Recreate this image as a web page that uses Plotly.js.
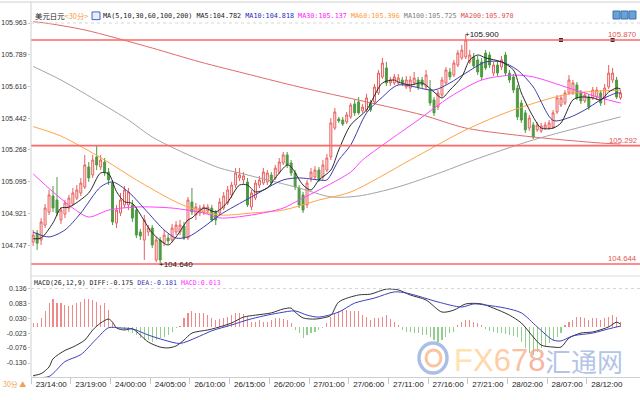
<!DOCTYPE html>
<html><head><meta charset="utf-8">
<script src="https://cdn.plot.ly/plotly-3.0.1.min.js"></script>
<style>html,body{margin:0;padding:0;background:#fff}#chart{width:640px;height:400px}</style>
</head><body><div id="chart"></div>
<script>
// ---- x axis labels (30-minute bars, one label every 10 bars)
const timeLabels = ['23/14:00','23/19:00','24/00:00','24/05:00','26/10:00','26/15:00','26/20:00','27/01:00','27/06:00','27/11:00','27/16:00','27/21:00','28/02:00','28/07:00','28/12:00'];
const priceTicks = [105.963,105.789,105.616,105.442,105.268,105.095,104.921,104.747];
const macdTicks = [0.136,0.083,0.030,-0.023,-0.076,-0.130];

// ---- candles
const open = [104.764,104.813,104.775,104.857,104.928,105.016,104.994,104.885,104.917,104.950,104.972,105.005,105.033,105.065,105.175,105.131,105.230,105.175,105.202,105.147,105.087,104.868,104.923,104.967,104.967,104.967,104.939,104.819,104.775,104.819,104.841,104.666,104.775,104.759,104.786,104.775,104.819,104.819,104.852,104.786,104.983,104.912,104.923,104.928,104.934,104.950,104.928,104.923,104.950,104.978,105.022,105.076,105.115,105.104,105.093,104.956,105.005,105.076,105.087,105.093,105.131,105.115,105.147,105.197,105.241,105.197,105.142,105.060,105.022,104.967,105.115,105.120,105.158,105.120,105.158,105.230,105.388,105.438,105.432,105.421,105.449,105.520,105.531,105.482,105.487,105.525,105.531,105.580,105.668,105.717,105.635,105.635,105.635,105.651,105.613,105.607,105.635,105.651,105.651,105.613,105.596,105.542,105.503,105.569,105.635,105.695,105.678,105.733,105.772,105.777,105.750,105.777,105.761,105.750,105.799,105.788,105.689,105.733,105.722,105.788,105.689,105.668,105.607,105.525,105.471,105.388,105.405,105.378,105.372,105.388,105.388,105.394,105.476,105.514,105.525,105.580,105.580,105.624,105.580,105.536,105.558,105.553,105.558,105.580,105.553,105.613,105.651,105.651,105.553];
const high = [104.830,104.830,104.895,104.972,105.049,105.071,105.120,104.956,104.994,105.022,105.060,105.076,105.115,105.241,105.202,105.241,105.290,105.241,105.224,105.169,105.104,104.967,105.033,105.071,105.060,104.994,104.956,104.836,104.912,104.857,104.857,104.792,104.792,104.830,104.808,104.863,104.879,104.885,104.874,105.011,105.060,104.978,104.967,104.972,104.972,104.967,104.939,105.005,105.038,105.071,105.093,105.169,105.169,105.147,105.115,105.049,105.104,105.126,105.169,105.158,105.147,105.186,105.224,105.257,105.257,105.213,105.158,105.076,105.038,105.104,105.169,105.180,105.175,105.213,105.246,105.443,105.498,105.449,105.449,105.476,105.525,105.542,105.558,105.520,105.575,105.542,105.629,105.706,105.772,105.750,105.668,105.684,105.684,105.668,105.673,105.673,105.695,105.668,105.668,105.706,105.651,105.558,105.596,105.668,105.722,105.717,105.761,105.815,105.843,105.900,105.815,105.799,105.783,105.772,105.815,105.804,105.750,105.750,105.783,105.804,105.706,105.684,105.624,105.542,105.487,105.460,105.421,105.421,105.416,105.421,105.432,105.487,105.569,105.569,105.596,105.678,105.651,105.640,105.596,105.585,105.575,105.613,105.613,105.596,105.629,105.733,105.717,105.668,105.596];
const low = [104.742,104.721,104.748,104.841,104.912,104.928,104.906,104.863,104.895,104.928,104.961,104.994,105.016,105.054,105.093,105.115,105.158,105.158,105.126,105.076,104.857,104.841,104.906,104.950,104.939,104.874,104.786,104.775,104.666,104.797,104.732,104.655,104.640,104.742,104.753,104.764,104.802,104.802,104.775,104.775,104.912,104.885,104.906,104.912,104.917,104.874,104.857,104.912,104.939,104.967,105.005,105.060,105.098,105.082,104.956,104.939,104.994,105.060,105.076,105.076,105.071,105.104,105.137,105.186,105.169,105.126,105.049,104.950,104.923,104.950,105.093,105.104,105.093,105.104,105.147,105.213,105.378,105.416,105.399,105.410,105.438,105.454,105.460,105.471,105.476,105.476,105.520,105.569,105.657,105.618,105.618,105.624,105.624,105.618,105.602,105.585,105.624,105.596,105.607,105.596,105.509,105.454,105.487,105.558,105.624,105.651,105.668,105.722,105.761,105.766,105.739,105.717,105.678,105.651,105.706,105.717,105.673,105.673,105.706,105.673,105.635,105.580,105.432,105.416,105.361,105.372,105.328,105.367,105.361,105.378,105.378,105.383,105.465,105.503,105.514,105.569,105.569,105.542,105.520,105.525,105.487,105.542,105.542,105.509,105.514,105.602,105.635,105.547,105.542];
const close = [104.802,104.758,104.874,104.950,105.022,104.950,104.923,104.939,104.978,105.005,105.033,105.049,105.087,105.186,105.115,105.213,105.186,105.213,105.147,105.104,104.874,104.939,104.994,105.049,105.038,104.895,104.802,104.797,104.885,104.841,104.748,104.775,104.666,104.802,104.770,104.841,104.857,104.857,104.786,104.994,104.928,104.956,104.950,104.956,104.956,104.885,104.885,104.983,105.016,105.049,105.076,105.142,105.131,105.126,104.967,105.033,105.087,105.104,105.147,105.142,105.087,105.169,105.202,105.241,105.186,105.142,105.065,104.967,104.939,105.087,105.147,105.158,105.104,105.186,105.224,105.416,105.476,105.427,105.410,105.460,105.514,105.471,105.471,105.503,105.553,105.487,105.613,105.689,105.744,105.635,105.651,105.668,105.662,105.635,105.651,105.651,105.662,105.613,105.624,105.678,105.525,105.471,105.580,105.651,105.706,105.668,105.744,105.799,105.815,105.870,105.788,105.728,105.695,105.668,105.717,105.733,105.733,105.689,105.761,105.689,105.651,105.596,105.449,105.432,105.378,105.443,105.339,105.405,105.399,105.405,105.416,105.471,105.553,105.553,105.580,105.651,105.635,105.553,105.536,105.569,105.503,105.596,105.596,105.525,105.607,105.689,105.689,105.558,105.580];

// ---- moving averages (bar index, value)
const ma5X = [0,2,5,7,9,14,17,19,21,23,25,28,30,34,36,39,40,43,46,49,52,54,56,59,61,64,65,68,70,72,75,77,80,84,88,91,92,95,98,101,103,105,108,110,112,114,118,121,123,126,128,131,133,136,138,141,143,145,147,148];
const ma5 = [104.782,104.786,104.869,104.950,104.955,105.033,105.142,105.137,105.040,104.985,104.975,104.880,104.814,104.748,104.792,104.885,104.896,104.950,104.929,104.983,105.076,105.076,105.038,105.060,105.115,105.186,105.175,105.076,105.049,105.104,105.158,105.268,105.405,105.487,105.635,105.651,105.640,105.624,105.635,105.585,105.553,105.596,105.668,105.761,105.788,105.772,105.750,105.706,105.580,105.449,105.388,105.388,105.416,105.542,105.558,105.553,105.542,105.585,105.607,105.602];
const ma10X = [0,4,8,12,17,20,24,29,33,36,39,43,47,55,63,67,72,74,77,80,84,88,92,101,105,109,114,118,122,126,131,135,139,143,147,148];
const ma10 = [104.818,104.792,104.830,104.923,105.066,105.093,105.038,104.923,104.830,104.786,104.792,104.847,104.912,105.011,105.104,105.115,105.104,105.104,105.213,105.295,105.471,105.558,105.624,105.596,105.635,105.689,105.750,105.750,105.706,105.613,105.430,105.445,105.487,105.542,105.580,105.580];
const ma30X = [0,5,10,14,19,26,35,43,47,55,63,67,72,80,83,97,105,113,121,126,135,143,148];
const ma30 = [105.137,105.038,104.950,104.901,104.939,104.956,104.950,104.923,104.896,104.912,104.950,104.994,105.049,105.147,105.213,105.432,105.558,105.651,105.678,105.668,105.607,105.553,105.525];
const ma60X = [0,7,18,26,35,39,47,55,63,72,80,95,109,121,135,148];
const ma60 = [105.396,105.344,105.213,105.104,104.994,104.956,104.912,104.923,104.939,104.994,105.038,105.213,105.378,105.487,105.575,105.596];
const ma100X = [0,7,17,24,30,38,47,52,67,75,82,92,103,111,126,148];
const ma100 = [105.725,105.651,105.525,105.432,105.339,105.252,105.169,105.142,105.060,105.011,105.016,105.066,105.147,105.213,105.323,105.449];
const ma200X = [0,3,13,30,42,55,67,84,98,109,126,143,148];
const ma200 = [105.970,105.963,105.925,105.826,105.750,105.678,105.613,105.531,105.460,105.388,105.339,105.306,105.301];

// ---- drawn levels and marked extremes
const levels = [105.870, 105.292, 104.644];
const levelPtsX = [133, 146];
const extremeX = [109, 32];
const extremeY = [105.900, 104.640];

// ---- MACD(26,12,9)
const hist = [0.014,0.014,0.030,0.054,0.083,0.098,0.083,0.083,0.077,0.074,0.077,0.083,0.089,0.098,0.098,0.095,0.089,0.077,0.083,0.060,0.012,-0.002,-0.005,-0.012,-0.018,-0.024,-0.030,-0.042,-0.046,-0.048,-0.054,-0.048,-0.042,-0.036,-0.030,-0.018,-0.006,0.002,0.030,0.050,0.054,0.050,0.050,0.048,0.042,0.030,0.024,0.027,0.030,0.036,0.042,0.048,0.048,0.045,0.036,0.018,0.018,0.024,0.018,0.018,0.024,0.030,0.030,0.027,0.024,0.012,-0.012,-0.024,-0.042,-0.030,-0.024,-0.018,-0.012,-0.006,0.012,0.036,0.048,0.054,0.060,0.060,0.057,0.057,0.054,0.042,0.036,0.024,0.030,0.030,0.036,0.042,0.026,0.018,0.006,-0.012,-0.018,-0.018,-0.024,-0.024,-0.030,-0.030,-0.036,-0.048,-0.054,-0.048,-0.036,-0.024,-0.018,0.006,0.018,0.024,0.024,0.018,0.012,0.006,-0.010,-0.014,-0.018,-0.024,-0.024,-0.027,-0.030,-0.033,-0.036,-0.054,-0.077,-0.095,-0.101,-0.089,-0.077,-0.068,-0.060,-0.048,-0.036,-0.024,0.006,0.018,0.024,0.036,0.036,0.030,0.024,0.030,0.030,0.024,0.030,0.036,0.042,0.036,0.018];
const diffX = [0,2,4,5,8,10,13,15,17,19,20,21,23,25,27,29,32,34,36,38,40,44,46,50,53,56,60,63,65,66,68,71,73,75,77,82,85,89,92,95,99,103,106,109,113,116,120,123,126,128,131,133,135,138,141,145,147,148];
const diff = [-0.175,-0.168,-0.144,-0.115,-0.085,-0.073,-0.048,-0.012,0.013,0.027,0.016,-0.005,-0.012,-0.008,-0.030,-0.055,-0.073,-0.076,-0.069,-0.048,-0.023,-0.012,-0.005,0.013,0.034,0.041,0.049,0.063,0.066,0.052,0.031,0.027,0.031,0.040,0.088,0.113,0.116,0.134,0.131,0.113,0.095,0.052,0.059,0.081,0.081,0.066,0.041,0.013,-0.037,-0.066,-0.073,-0.073,-0.041,-0.023,-0.019,-0.001,0.016,0.009];
const deaX = [0,4,8,12,16,19,22,25,29,33,37,41,45,50,54,58,62,66,69,72,77,81,86,91,94,97,102,108,111,114,119,123,127,131,133,136,141,145,148];
const dea = [-0.181,-0.178,-0.125,-0.100,-0.043,-0.004,-0.005,-0.008,-0.030,-0.048,-0.060,-0.040,-0.015,0.006,0.024,0.038,0.049,0.056,0.041,0.034,0.052,0.084,0.102,0.124,0.120,0.109,0.088,0.070,0.081,0.077,0.066,0.049,-0.001,-0.048,-0.051,-0.033,-0.023,-0.008,0.002];

// ---------------------------------------------------------------
const idx = open.map((_, i) => i);
const tickPos = timeLabels.map((_, k) => -0.5 + 10 * k);
const histColors = hist.map(v => v >= 0 ? '#ef8a8a' : '#92cf8e');

function maLine(x, y, color) {
  return {type: 'scatter', mode: 'lines', x: x, y: y, xaxis: 'x', yaxis: 'y',
    line: {color: color, width: 1, shape: 'spline', smoothing: 0.8}, hoverinfo: 'skip'};
}

const traces = [
  {type: 'candlestick', x: idx, open: open, high: high, low: low, close: close,
   xaxis: 'x', yaxis: 'y', whiskerwidth: 0,
   increasing: {line: {color: '#e8605e', width: 1}, fillcolor: '#fff6f6'},
   decreasing: {line: {color: '#4e9a42', width: 1}, fillcolor: '#4e9a42'}},
  maLine(ma200X, ma200, '#e26a6a'),
  maLine(ma100X, ma100, '#a4a4a4'),
  maLine(ma60X, ma60, '#ffa346'),
  maLine(ma30X, ma30, '#ff44ff'),
  maLine(ma10X, ma10, '#3c3caa'),
  maLine(ma5X, ma5, '#2a2a2a'),
  {type: 'scatter', mode: 'markers', x: levelPtsX, y: levelPtsX.map(() => levels[0]),
   xaxis: 'x', yaxis: 'y', marker: {symbol: 'square', size: 4, color: '#333'}},
  {type: 'bar', x: idx, y: hist, xaxis: 'x', yaxis: 'y2', width: 0.28,
   marker: {color: histColors, line: {width: 0}}},
  {type: 'scatter', mode: 'lines', x: diffX, y: diff, xaxis: 'x', yaxis: 'y2',
   line: {color: '#333333', width: 1, shape: 'spline', smoothing: 0.8}},
  {type: 'scatter', mode: 'lines', x: deaX, y: dea, xaxis: 'x', yaxis: 'y2',
   line: {color: '#4040c0', width: 1, shape: 'spline', smoothing: 0.8}}
];

const axFont = {family: 'Liberation Sans, Arial, sans-serif', size: 7, color: '#333'};
const mono = 'DejaVu Sans Mono, Noto Sans CJK SC, monospace';

const shapes = [];
levels.forEach(v => shapes.push({type: 'line', xref: 'paper', x0: 0, x1: 1, yref: 'y', y0: v, y1: v,
  line: {color: '#ff6666', width: 1.6}}));
shapes.push({type: 'line', xref: 'paper', x0: 0, x1: 1, yref: 'y', y0: priceTicks[0], y1: priceTicks[0], line: {color: '#d6d6d6', width: 1, dash: 'dot'}});
shapes.push({type: 'line', xref: 'paper', x0: 0, x1: 1, yref: 'y2', y0: macdTicks[0], y1: macdTicks[0], line: {color: '#d6d6d6', width: 1, dash: 'dot'}});
shapes.push({type: 'line', xref: 'paper', x0: -0.051, x1: 1, yref: 'paper', y0: 1, y1: 1, line: {color: '#cfcfcf', width: 1}});
shapes.push({type: 'line', xref: 'paper', x0: 0, x1: 1, yref: 'paper', y0: 0.2693, y1: 0.2693, line: {color: '#dcdcdc', width: 1}});
shapes.push({type: 'line', xref: 'paper', x0: 0, x1: 0, yref: 'paper', y0: 0, y1: 1, line: {color: '#cfcfcf', width: 1}});
// small header icon
shapes.push({type: 'rect', xref: 'paper', yref: 'paper', x0: 0.1002, x1: 0.1133, y0: 0.953, y1: 0.9735, line: {color: '#3a66c8', width: 1}, fillcolor: '#e8eefc'});
// toolbar icons top right
[[0.9557, 0.9672], [0.9688, 0.9803], [0.9819, 0.9934]].forEach(p => shapes.push({type: 'rect', xref: 'paper', yref: 'paper', x0: p[0], x1: p[1], y0: 0.9547, y1: 0.976, line: {color: '#3b70b0', width: 1}, fillcolor: '#6aa2d8'}));
// watermark logo
shapes.push({type: 'circle', xref: 'paper', yref: 'paper', x0: 0.6371, x1: 0.6831, y0: 0.0107, y1: 0.0907, line: {color: 'rgba(140,170,222,0.75)', width: 3.5}});
shapes.push({type: 'circle', xref: 'paper', yref: 'paper', x0: 0.6486, x1: 0.6732, y0: 0.0293, y1: 0.072, line: {color: 'rgba(250,175,125,0.75)', width: 3}});

const annotations = [
  {xref: 'paper', yref: 'paper', x: 0.0033, y: 0.9627, xanchor: 'left', yanchor: 'middle', showarrow: false,
   text: '美元日元<span style="color:#f0a040">&lt;30分&gt;</span>', font: {family: 'Noto Sans CJK SC, sans-serif', size: 7.4, color: '#222'}},
  {xref: 'paper', yref: 'paper', x: 0.1149, y: 0.9627, xanchor: 'left', yanchor: 'middle', showarrow: false,
   font: {family: mono, size: 6.75, color: '#222'},
   text: 'MA(5,10,30,60,100,200) MA5:104.782 <span style="color:#2a2ac0">MA10:104.818</span> <span style="color:#ff22ff">MA30:105.137</span> <span style="color:#ff9a30">MA60:105.396</span> <span style="color:#808080">MA100:105.725</span> <span style="color:#e05050">MA200:105.970</span>'},
  {xref: 'paper', yref: 'paper', x: 0.0016, y: 0.252, xanchor: 'left', yanchor: 'middle', showarrow: false,
   font: {family: mono, size: 6.6, color: '#222'},
   text: 'MACD(26,12,9) DIFF:-0.175 <span style="color:#3333bb">DEA:-0.181</span> <span style="color:#ff33ff">MACD:0.013</span>'},
  {xref: 'paper', yref: 'paper', x: -0.0495, y: -0.0187, xanchor: 'left', yanchor: 'middle', showarrow: false,
   text: '30分 ▲', font: {family: 'Noto Sans CJK SC, sans-serif', size: 7, color: '#f0a050'}},
  {xref: 'x', yref: 'y', x: extremeX[0], y: extremeY[0], xanchor: 'left', yanchor: 'middle', xshift: -3, showarrow: false,
   text: '+' + extremeY[0].toFixed(3), font: {family: 'Liberation Sans, sans-serif', size: 8, color: '#111'}},
  {xref: 'x', yref: 'y', x: extremeX[1], y: extremeY[1], xanchor: 'left', yanchor: 'middle', xshift: -3, showarrow: false,
   text: '+' + extremeY[1].toFixed(3), font: {family: 'Liberation Sans, sans-serif', size: 8, color: '#111'}},
  {xref: 'paper', yref: 'paper', x: 0.691, y: 0.0453, xanchor: 'left', yanchor: 'middle', showarrow: false,
   font: {family: 'Liberation Sans, sans-serif', size: 31, color: '#ffc890'},
   text: '<span style="color:rgba(255,220,150,0.8)">F</span><span style="color:rgba(255,205,145,0.8)">X</span><span style="color:rgba(255,190,140,0.8)">6</span><span style="color:rgba(250,175,135,0.8)">7</span><span style="color:rgba(246,162,135,0.8)">8</span>'},
  {xref: 'paper', yref: 'paper', x: 0.8407, y: 0.0453, xanchor: 'left', yanchor: 'middle', showarrow: false,
   text: '汇通网', font: {family: 'Noto Sans CJK SC, sans-serif', size: 26, color: 'rgba(160,180,225,0.8)'}}
];
levels.forEach(v => annotations.push({xref: 'paper', yref: 'y', x: 0.999, y: v, xanchor: 'right', yanchor: 'bottom', showarrow: false,
  text: v.toFixed(3), font: {family: 'Liberation Sans, sans-serif', size: 7.8, color: '#e05555'}, yshift: -1}));

const layout = {
  width: 640, height: 400,
  margin: {l: 31, r: 0, t: 2, b: 23, pad: 0},
  paper_bgcolor: '#ffffff', plot_bgcolor: '#ffffff',
  showlegend: false, bargap: 0,
  xaxis: {range: [-0.55, 152.9], anchor: 'y2', tickmode: 'array', tickvals: tickPos, ticktext: timeLabels,
    ticklabelshift: 20, ticklabelstandoff: -7, ticks: 'outside', ticklen: 6, tickcolor: '#c8c8c8',
    showgrid: false, zeroline: false, showline: true, linecolor: '#cfcfcf',
    tickfont: {family: 'Liberation Sans, Arial, sans-serif', size: 8, color: '#222'},
    rangeslider: {visible: false}, fixedrange: true},
  yaxis: {domain: [0.2827, 1], range: [104.6056, 106.078], anchor: 'x', tickmode: 'array', tickvals: priceTicks,
    ticktext: priceTicks.map(v => v.toFixed(3)), ticks: 'outside', ticklen: 2, tickcolor: '#c8c8c8',
    showgrid: false, zeroline: false, showline: false, tickfont: axFont, fixedrange: true},
  yaxis2: {domain: [0, 0.2693], range: [-0.1799, 0.1807], anchor: 'x', tickmode: 'array', tickvals: macdTicks,
    ticktext: macdTicks.map(v => v.toFixed(3)), ticks: 'outside', ticklen: 2, tickcolor: '#c8c8c8',
    showgrid: false, zeroline: false, showline: false, tickfont: axFont, fixedrange: true},
  shapes: shapes,
  annotations: annotations
};

Plotly.newPlot('chart', traces, layout, {staticPlot: true, displayModeBar: false});
</script></body></html>
